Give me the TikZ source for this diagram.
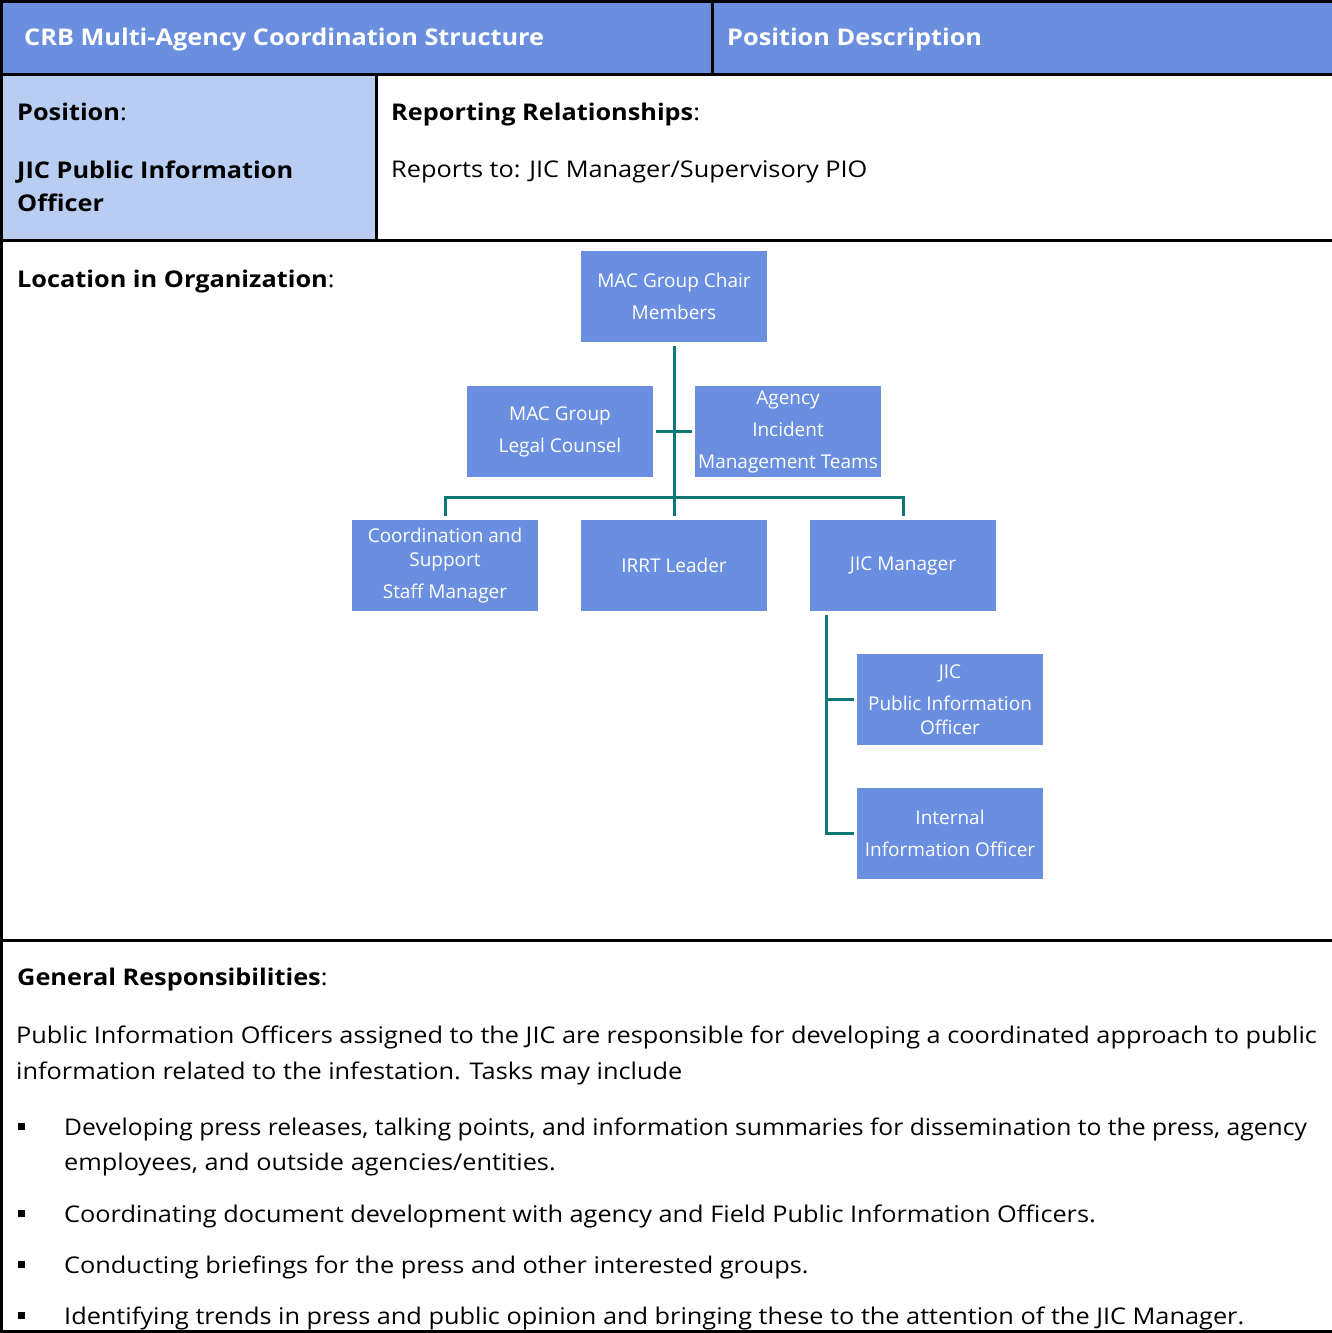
\documentclass[tikz,border=0pt]{standalone}
\usepackage{fontspec}
\setmainfont{Open Sans}[FakeStretch=1.10]
\newfontfamily\orgfam{Open Sans}
\definecolor{headblue}{HTML}{6A8FDF}
\definecolor{paleblue}{HTML}{B9CCF1}
\definecolor{boxblue}{HTML}{6B8FE0}
\definecolor{linkteal}{HTML}{0F7676}
\newcommand\orgfont{\orgfam\fontsize{19}{32}\selectfont}
\newcommand\bodyfont{\fontsize{23}{30}\selectfont}
\begin{document}
\begin{tikzpicture}[x=1pt,y=-1pt,
  rule/.style={line width=3pt, draw=black},
  orgbox/.style={rectangle, fill=boxblue, minimum width=186pt, minimum height=91pt,
    inner sep=0pt, text=white, align=center, font=\orgfont},
  link/.style={draw=linkteal, line width=3pt},
  txt/.style={anchor=base west, inner sep=0pt, font=\bodyfont},
  headtxt/.style={txt, text=white, font=\bodyfont\bfseries},
  bulletsq/.style={rectangle, fill=black, minimum size=7pt, inner sep=0pt}]
\useasboundingbox (0,0) rectangle (1332,1333);
\fill[white] (0,0) rectangle (1332,1333);

% table cells
\fill[headblue] (2,1) rectangle (1332,74);
\fill[paleblue] (2,74) rectangle (376,240);

% table rules
\draw[rule] (0,1.5) -- (1332,1.5);
\draw[rule] (0,74) -- (1332,74);
\draw[rule] (0,240) -- (1332,240);
\draw[rule] (0,940) -- (1332,940);
\draw[rule] (0,1331.5) -- (1332,1331.5);
\draw[rule] (1.5,0) -- (1.5,1333);
\draw[rule] (712,0) -- (712,74);
\draw[rule] (376,74) -- (376,240);

% header row
\node[headtxt] (title) at (24,45) {CRB Multi-Agency Coordination Structure};
\node[headtxt] (desc) at (727,45) {Position Description};

% position row
\node[txt] (poslbl) at (17,120) {\textbf{Position}:};
\node[txt] (posname1) at (17,178) {\textbf{JIC Public Information}};
\node[txt] (posname2) at (17,211) {\textbf{Officer}};
\node[txt] (replbl) at (391,120) {\textbf{Reporting Relationships}:};
\node[txt] (repto) at (391,177) {Reports to: JIC Manager/Supervisory PIO};

% organization chart
\node[txt] (loclbl) at (17,287) {\textbf{Location in Organization}:};
\node[orgbox] (chair)  at (674,296.5) {MAC Group Chair\\Members};
\node[orgbox] (legal)  at (560,431.5) {MAC Group\\Legal Counsel};
\node[orgbox] (agency) at (788,431.5) {Agency\\Incident\\Management Teams};
\node[orgbox] (csm)    at (445,565.5) {Coordination and\\[-8pt]Support\\Staff Manager};
\node[orgbox] (irrt)   at (674,565.5) {IRRT Leader};
\node[orgbox] (jicm)   at (903,565.5) {JIC Manager};
\node[orgbox] (pio)    at (950,699.5) {JIC\\Public Information\\[-8pt]Officer};
\node[orgbox] (ioo)    at (950,833.5) {Internal\\Information Officer};

\draw[link] ([yshift=-4pt]chair.south) -- ([yshift=4pt]irrt.north);
\draw[link] ([xshift=3pt]legal.east) -- ([xshift=-3pt]agency.west);
\draw[link] ([yshift=4pt]csm.north) -- ++(0,-18) -| ([yshift=4pt]jicm.north);
\draw[link] ([shift={(17pt,-4pt)}]jicm.south west) |- ([xshift=-3pt]ioo.west);
\draw[link] ([shift={(17pt,-4pt)}]jicm.south west) |- ([xshift=-3pt]pio.west);

% responsibilities
\node[txt] (genlbl) at (17,985) {\textbf{General Responsibilities}:};
\node[txt] (intro1) at (16,1043) {Public Information Officers assigned to the JIC are responsible for developing a coordinated approach to public};
\node[txt] (intro2) at (16,1079) {information related to the infestation. Tasks may include};

\node[bulletsq] (b1) at (21.5,1126.5) {};
\node[txt] (t1a) at (64,1135) {\scalebox{0.975}[1]{Developing press releases, talking points, and information summaries for dissemination to the press, agency}};
\node[txt] (t1b) at (64,1170) {employees, and outside agencies/entities.};
\node[bulletsq] (b2) at (21.5,1213.5) {};
\node[txt] (t2) at (64,1222) {Coordinating document development with agency and Field Public Information Officers.};
\node[bulletsq] (b3) at (21.5,1264.5) {};
\node[txt] (t3) at (64,1273) {Conducting briefings for the press and other interested groups.};
\node[bulletsq] (b4) at (21.5,1315.5) {};
\node[txt] (t4) at (64,1324) {Identifying trends in press and public opinion and bringing these to the attention of the JIC Manager.};
\end{tikzpicture}
\end{document}
